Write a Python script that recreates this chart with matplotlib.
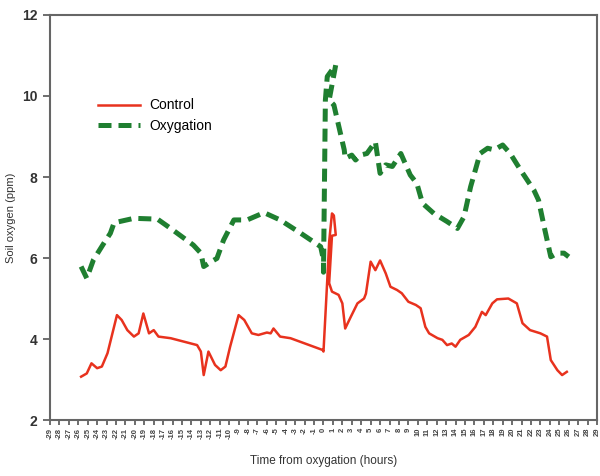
import matplotlib
matplotlib.use("Agg")
import matplotlib.pyplot as plt

plt.rcParams['font.family'] = ['Liberation Sans', 'DejaVu Sans']

# hours relative to the start of oxygation
control_t = [-25.7, -25.1, -24.6, -24.0, -23.5, -22.9, -21.9, -21.4, -20.8, -20.1,
             -19.6, -19.1, -18.5, -18.0, -17.5, -16.2, -13.4, -13.0, -12.7, -12.2,
             -11.5, -10.9, -10.4, -9.9, -9.0, -8.4, -7.6, -6.9, -6.0, -5.6,
             -5.3, -4.6, -3.5, -0.1, 0.0, 0.4, 0.6, 0.9, 1.1, 1.3,
             0.9, 0.6, 0.9, 1.6, 2.0, 2.3, 2.9, 3.6, 4.3, 4.5,
             5.0, 5.5, 6.0, 6.6, 7.1, 7.8, 8.3, 9.0, 9.8, 10.3,
             10.8, 11.2, 12.1, 12.6, 13.1, 13.6, 14.0, 14.5, 15.4, 16.1,
             16.8, 17.2, 17.9, 18.4, 19.6, 20.5, 21.1, 21.9, 23.0, 23.7,
             24.1, 24.8, 25.3, 25.8]
control_ppm = [3.07, 3.15, 3.40, 3.28, 3.32, 3.65, 4.59, 4.47, 4.22, 4.06,
               4.14, 4.63, 4.14, 4.22, 4.06, 4.02, 3.85, 3.69, 3.11, 3.69,
               3.36, 3.23, 3.32, 3.81, 4.59, 4.47, 4.14, 4.10, 4.16, 4.14,
               4.26, 4.06, 4.02, 3.73, 3.69, 5.46, 6.40, 7.10, 7.05, 6.57,
               6.55, 5.38, 5.17, 5.09, 4.88, 4.26, 4.55, 4.88, 5.00, 5.12,
               5.91, 5.70, 5.94, 5.62, 5.29, 5.21, 5.13, 4.92, 4.84, 4.76,
               4.30, 4.14, 4.02, 3.98, 3.85, 3.89, 3.81, 3.98, 4.10, 4.30,
               4.67, 4.59, 4.88, 4.98, 5.00, 4.88, 4.39, 4.22, 4.14, 4.06,
               3.48, 3.23, 3.11, 3.19]

oxy_t = [-25.7, -25.1, -24.4, -23.3, -22.6, -22.2, -20.1, -17.6, -16.2, -13.8,
         -13.0, -12.7, -11.9, -11.3, -10.6, -9.5, -8.1, -6.3, -4.6, -2.4,
         -0.3, 0.0, 0.0, 0.2, 0.4, 1.3, 0.6, 1.1, 2.2, 2.3,
         3.0, 3.4, 3.9, 4.6, 5.5, 6.0, 6.6, 7.3, 8.2, 9.2,
         9.9, 10.5, 11.7, 13.1, 14.2, 14.9, 15.6, 16.6, 17.4, 18.1,
         19.0, 19.8, 20.9, 22.3, 22.8, 23.4, 24.1, 24.8, 25.5, 26.0]
oxy_ppm = [5.79, 5.50, 5.95, 6.36, 6.61, 6.87, 6.98, 6.96, 6.73, 6.32,
           6.12, 5.79, 5.91, 5.99, 6.44, 6.94, 6.94, 7.12, 6.94, 6.61,
           6.28, 5.95, 5.65, 9.90, 10.48, 10.77, 9.90, 9.78, 8.67, 8.46,
           8.54, 8.42, 8.54, 8.58, 8.87, 8.09, 8.30, 8.26, 8.58, 8.05,
           7.84, 7.35, 7.10, 6.90, 6.73, 7.02, 7.76, 8.58, 8.71, 8.67,
           8.79, 8.58, 8.17, 7.68, 7.43, 6.77, 6.03, 6.12, 6.12, 6.03]

hour_ticks = list(range(-29, 30))
ppm_ticks = [2, 4, 6, 8, 10, 12]

fig = plt.figure(figsize=(6.0, 4.76), dpi=100)
ax = fig.add_axes([0.0833, 0.1176, 0.9117, 0.8509])

ax.plot(control_t, control_ppm, color='#e8321e', lw=1.8, label='Control')
ax.plot(oxy_t, oxy_ppm, color='#1f7f30', lw=3.6, dashes=(2.6, 1.4),
        label='Oxygation')

ax.set_xlim(-29, 29)
ax.set_ylim(2, 12)
ax.set_yticks(ppm_ticks)
ax.set_yticklabels([str(v) for v in ppm_ticks], fontsize=10, fontweight='bold',
                   color='#333333')
ax.set_xticks(hour_ticks)
ax.set_xticklabels([str(v) for v in hour_ticks], fontsize=5.5, rotation=90,
                   fontweight='bold', color='#444444')

for s in ax.spines.values():
    s.set_color('#666666')
    s.set_linewidth(1.5)
ax.tick_params(axis='y', length=5, width=1.2, color='#555555', pad=4)
ax.tick_params(axis='x', length=3.5, width=1.2, color='#555555', pad=2)

ax.set_ylabel('Soil oxygen (ppm)', fontsize=8, color='#333333', labelpad=4)
ax.set_xlabel('Time from oxygation (hours)', fontsize=8.5, color='#333333',
              labelpad=12)

ax.legend(loc='upper left', bbox_to_anchor=(0.065, 0.825), frameon=False,
          fontsize=10, handlelength=3.0, labelspacing=0.45, handletextpad=0.7)

fig.savefig('out.png', dpi=100)
